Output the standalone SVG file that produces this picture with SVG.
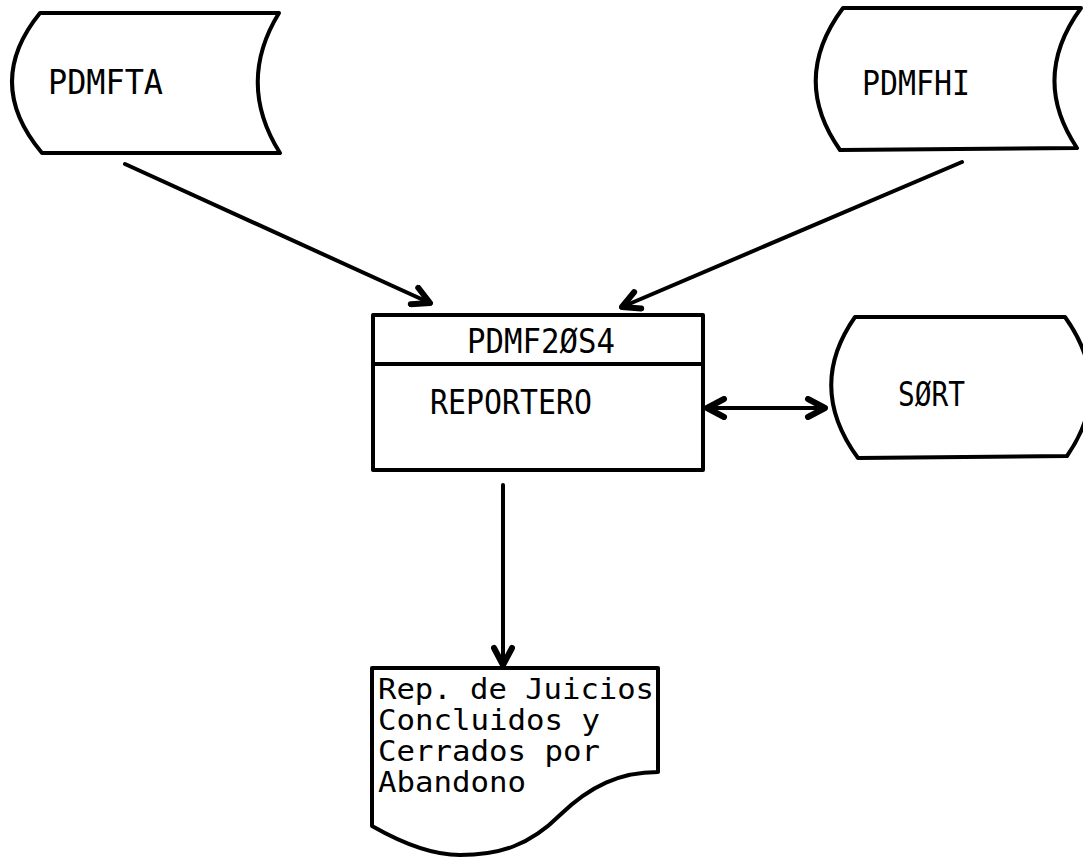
<svg xmlns="http://www.w3.org/2000/svg" width="1083" height="858" viewBox="0 0 1083 858">
<style>
.shape{fill:#fff;stroke:#000;stroke-width:4;stroke-linejoin:round}
.lbl{font-family:"DejaVu Sans Mono","Liberation Mono",monospace;font-size:33px;fill:#000}
.doc{font-family:"DejaVu Sans Mono","Liberation Mono",monospace;font-size:28px;fill:#000}
.conn{fill:none;stroke:#000;stroke-width:4;stroke-linecap:round}
</style>
<defs>
<marker id="ah" viewBox="0 0 24 24" refX="21" refY="12" markerWidth="24" markerHeight="24" markerUnits="userSpaceOnUse" orient="auto-start-reverse">
<path d="M4,3 L21,12 L4,21" fill="none" stroke="#000" stroke-width="6" stroke-linecap="round" stroke-linejoin="round"/>
</marker>
</defs>
<rect width="1083" height="858" fill="#fff"/>
<g id="pdmfta">
<path class="shape" d="M40,13 L279,13 Q236,83 280,153 L42,153 Q-17,83 40,13 Z"/>
<text class="lbl" x="48" y="94" textLength="115" lengthAdjust="spacingAndGlyphs">PDMFTA</text>
</g>
<g id="pdmfhi">
<path class="shape" d="M843,8 L1081,8 Q1030,78 1077,148 L840,150 Q790,79 843,8 Z"/>
<text class="lbl" x="862" y="95" textLength="108" lengthAdjust="spacingAndGlyphs">PDMFHI</text>
</g>
<g id="process">
<rect class="shape" x="373" y="315" width="330" height="155"/>
<line x1="373" y1="364" x2="703" y2="364" stroke="#000" stroke-width="4"/>
<text class="lbl" x="467" y="353" textLength="148" lengthAdjust="spacingAndGlyphs">PDMF2ØS4</text>
<text class="lbl" x="430" y="414" textLength="162" lengthAdjust="spacingAndGlyphs">REPORTERO</text>
</g>
<g id="sort">
<path class="shape" d="M855,317 L1065,317 Q1115,387 1067,456 L858,458 Q806,387 855,317 Z"/>
<text class="lbl" x="898" y="406" textLength="67" lengthAdjust="spacingAndGlyphs">SØRT</text>
</g>
<g id="report">
<path class="shape" d="M372,668 L658,668 L658,772 C620,772 590,786 560,815 C530,845 500,855 460,855 C430,855 400,842 372,826 Z"/>
<text class="doc" x="378" y="699" textLength="276" lengthAdjust="spacingAndGlyphs">Rep. de Juicios</text>
<text class="doc" x="378" y="730" textLength="222" lengthAdjust="spacingAndGlyphs">Concluidos y</text>
<text class="doc" x="378" y="761" textLength="222" lengthAdjust="spacingAndGlyphs">Cerrados por</text>
<text class="doc" x="378" y="792" textLength="148" lengthAdjust="spacingAndGlyphs">Abandono</text>
</g>
<g id="connectors">
<line class="conn" x1="125" y1="164" x2="430" y2="303" marker-end="url(#ah)"/>
<line class="conn" x1="962" y1="162" x2="622" y2="307" marker-end="url(#ah)"/>
<line class="conn" x1="707" y1="408" x2="825" y2="408" marker-start="url(#ah)" marker-end="url(#ah)"/>
<line class="conn" x1="503" y1="485" x2="503" y2="665" marker-end="url(#ah)"/>
</g>
</svg>
